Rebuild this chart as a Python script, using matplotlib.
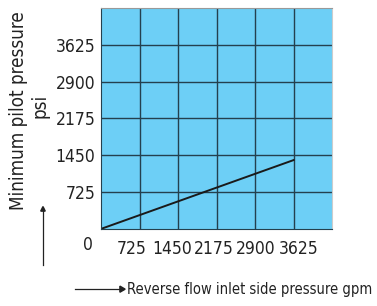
import matplotlib
matplotlib.use('Agg')
import matplotlib.pyplot as plt
import matplotlib.transforms as mtransforms

# data
x_ticks = [725, 1450, 2175, 2900, 3625]
y_ticks = [725, 1450, 2175, 2900, 3625]
axis_max = 4350
line_x = [0, 3625]
line_y = [0, 1355]

plt.rcParams['font.family'] = ['DejaVu Sans']
plt.rcParams['font.stretch'] = 'condensed'

fig = plt.figure(figsize=(3.77, 3.06), dpi=100)
ax = fig.add_axes([0.268, 0.252, 0.613, 0.722])
ax.set_facecolor('#6dcff6')
ax.set_xlim(0, axis_max)
ax.set_ylim(0, axis_max)

ax.set_xticks(x_ticks)
ax.set_yticks(y_ticks)
ax.set_xticklabels([str(v) for v in x_ticks])
ax.set_yticklabels([str(v) for v in y_ticks])
ax.tick_params(length=0, labelsize=12.5, colors='#222222')
ax.tick_params(axis='x', pad=8)
ax.tick_params(axis='y', pad=4)
ax.grid(True, color='#24404e', linewidth=1.0)
ax.set_axisbelow(True)

# the x labels in the original sit a little off their grid lines
shifts = [-8, -5.5, -3, 1, 5]
for lab, dx in zip(ax.get_xticklabels(), shifts):
    lab.set_transform(lab.get_transform() +
                      mtransforms.ScaledTranslation(dx / 100, 0, fig.dpi_scale_trans))

ax.plot(line_x, line_y, color='#1a1a1a', linewidth=1.4)

# corner zero label
ax.text(-0.057, -0.075, '0', transform=ax.transAxes, ha='center', va='center',
        fontsize=12.5, color='#222222')

ax.spines['left'].set_color('#24404e')
ax.spines['bottom'].set_color('#24404e')
ax.spines['top'].set_color('#999999')
ax.spines['right'].set_color('#cccccc')

fig.text(0.05, 0.64, 'Minimum pilot pressure', rotation=90, ha='center', va='center',
         fontsize=13.5, color='#222222')
fig.text(0.107, 0.655, 'psi', rotation=90, ha='center', va='center',
         fontsize=13.5, color='#222222')

# arrows
fig.add_artist(plt.Line2D([0.114, 0.114], [0.135, 0.32], color='#222222', linewidth=0.9))
fig.add_artist(plt.Polygon([[0.108, 0.31], [0.120, 0.31], [0.114, 0.325]], color='#222222'))
fig.add_artist(plt.Line2D([0.2, 0.325], [0.055, 0.055], color='#222222', linewidth=0.9))
fig.add_artist(plt.Polygon([[0.318, 0.045], [0.318, 0.065], [0.332, 0.055]], color='#222222'))
fig.text(0.338, 0.055, 'Reverse flow inlet side pressure gpm', ha='left', va='center',
         fontsize=10.5, color='#222222')

fig.savefig('out.png', dpi=100)
